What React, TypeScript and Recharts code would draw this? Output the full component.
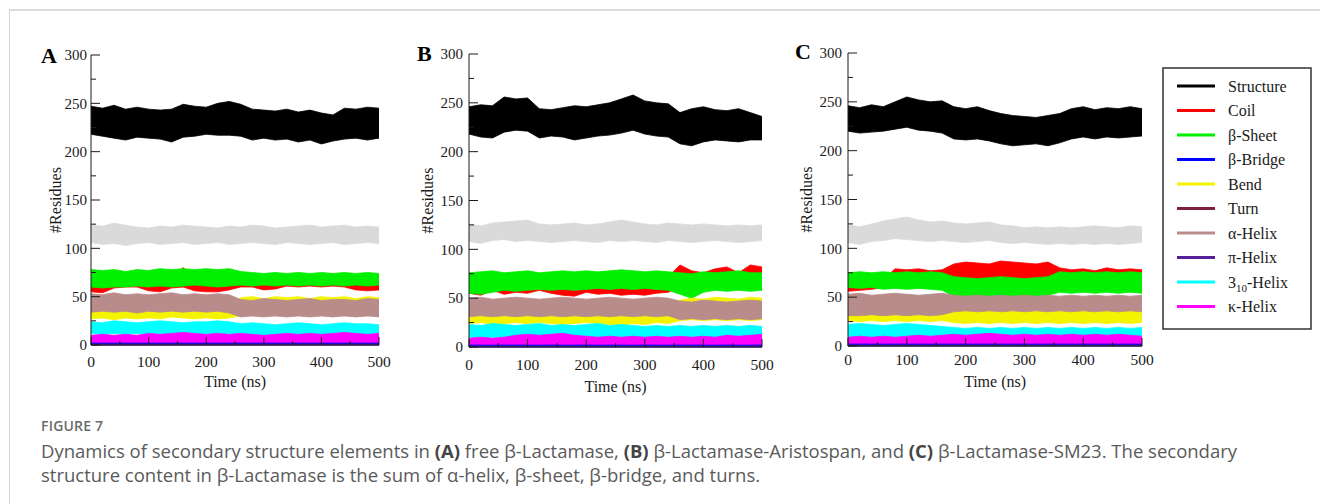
import { ComposedChart, Area, XAxis, YAxis } from 'recharts';

type Band = [number, number];

// sampling instants of the envelopes (ns)
const timeNs = [0, 20, 40, 60, 80, 100, 120, 140, 160, 180, 200, 220, 240, 260, 280, 300, 320, 340, 360, 380, 400, 420, 440, 460, 480, 500];
const xTicks = [0, 50, 100, 150, 200, 250, 300, 350, 400, 450, 500];
const yTicks = [0, 25, 50, 75, 100, 125, 150, 175, 200, 225, 250, 275, 300];

// each band is the [low, high] envelope of a noisy trace, every 20 ns
// ---- A: free beta-lactamase
const aStructure: Band[] = [[218,247],[216,245],[214,248],[212,244],[215,246],[214,244],[213,243],[210,244],[215,249],[216,247],[218,246],[217,250],[217,252],[216,249],[212,244],[214,243],[212,242],[213,244],[210,241],[212,243],[208,240],[211,238],[213,245],[214,244],[212,246],[214,245]];
const aGray: Band[] = [[106,124],[104,123],[105,126],[103,124],[105,122],[106,121],[104,123],[105,122],[106,124],[104,123],[105,122],[106,121],[104,123],[105,122],[106,124],[105,123],[104,121],[106,122],[105,123],[104,124],[105,122],[106,123],[104,124],[105,122],[106,123],[105,122]];
const aCoil: Band[] = [[55,70],[54,70],[59,68],[60,67],[60,70],[56,66],[55,74],[59,72],[60,80],[56,70],[55,68],[55,66],[57,69],[60,67],[60,66],[57,68],[58,67],[61,66],[60,68],[61,67],[60,72],[61,74],[60,68],[57,70],[56,72],[57,66]];
const aSheet: Band[] = [[60,78],[59,77],[60,78],[60,76],[61,78],[60,77],[61,79],[60,78],[61,79],[62,78],[61,79],[60,78],[61,79],[62,76],[61,75],[62,74],[61,75],[62,74],[61,75],[62,74],[61,75],[62,74],[61,75],[62,74],[61,75],[62,74]];
const aBend: Band[] = [[27,40],[28,39],[26,40],[28,41],[27,39],[28,40],[27,40],[29,39],[28,40],[27,41],[28,40],[27,39],[28,40],[30,49],[31,50],[30,48],[31,50],[30,49],[31,50],[30,48],[31,50],[30,49],[31,50],[30,48],[31,50],[30,49]];
const aTurn: Band[] = [[38,46],[38,46],[38,46],[38,46],[38,46],[38,46],[38,46],[38,46],[38,46],[38,46],[38,46],[38,46],[38,46],[34,42],[34,42],[34,42],[34,42],[34,42],[34,42],[34,42],[34,42],[34,42],[34,42],[34,42],[34,42],[34,42]];
const aAlpha: Band[] = [[34,53],[35,52],[34,54],[35,52],[33,53],[35,52],[34,53],[35,54],[34,52],[35,53],[34,52],[35,53],[33,52],[29,47],[30,46],[29,48],[30,47],[29,46],[30,47],[29,48],[30,46],[29,47],[30,47],[29,46],[30,48],[29,47]];
const aThreeTen: Band[] = [[12,24],[11,23],[12,25],[11,24],[12,23],[11,24],[12,25],[11,24],[12,23],[11,24],[12,24],[11,25],[12,24],[10,22],[11,23],[10,22],[11,21],[10,22],[11,23],[10,22],[11,21],[10,22],[11,23],[10,22],[11,22],[10,21]];
const aKappa: Band[] = [[1,10],[1,11],[1,10],[1,11],[1,10],[1,12],[1,11],[1,12],[1,13],[1,12],[1,11],[1,12],[1,11],[1,12],[1,11],[1,10],[1,11],[1,12],[1,11],[1,12],[1,11],[1,12],[1,13],[1,12],[1,11],[1,12]];

// ---- B: beta-lactamase + Aristospan
const bStructure: Band[] = [[218,246],[215,248],[214,247],[220,256],[222,254],[221,255],[214,244],[216,243],[215,245],[212,247],[214,246],[216,248],[217,250],[219,254],[222,258],[218,252],[216,250],[215,249],[208,240],[206,244],[210,246],[212,243],[211,242],[210,244],[212,240],[212,236]];
const bGray: Band[] = [[108,126],[106,124],[109,127],[110,128],[108,129],[109,130],[108,126],[107,125],[108,126],[109,127],[108,125],[107,126],[109,128],[108,130],[109,128],[108,126],[107,125],[109,127],[108,126],[107,125],[108,126],[109,125],[108,124],[107,125],[108,124],[109,125]];
const bCoil: Band[] = [[55,70],[53,72],[58,70],[54,68],[56,70],[55,69],[58,70],[55,68],[53,70],[52,69],[56,68],[54,70],[55,69],[53,70],[54,70],[53,69],[55,68],[56,72],[62,84],[60,78],[62,76],[60,80],[58,82],[60,76],[61,84],[63,82]];
const bSheet: Band[] = [[55,76],[54,77],[56,78],[58,76],[57,77],[58,78],[59,76],[58,77],[59,78],[58,77],[59,78],[60,77],[59,78],[60,79],[59,78],[60,77],[59,78],[58,77],[54,76],[50,75],[56,77],[58,76],[57,77],[58,78],[57,76],[58,76]];
const bBend: Band[] = [[24,36],[25,35],[23,36],[24,35],[25,36],[24,34],[25,35],[24,36],[23,35],[24,34],[25,36],[24,35],[23,37],[22,38],[24,36],[23,37],[25,36],[24,35],[27,48],[28,50],[27,49],[28,51],[27,50],[28,49],[27,51],[28,50]];
const bTurn: Band[] = [[36,45],[36,45],[36,45],[36,45],[36,45],[36,45],[36,45],[36,45],[36,45],[36,45],[36,45],[36,45],[36,45],[36,45],[36,45],[36,45],[36,45],[36,45],[33,42],[33,42],[33,42],[33,42],[33,42],[33,42],[33,42],[33,42]];
const bAlpha: Band[] = [[31,50],[32,51],[31,49],[32,50],[31,51],[32,50],[31,49],[32,50],[31,51],[32,50],[31,49],[32,50],[31,51],[32,50],[31,49],[32,50],[31,51],[32,50],[28,47],[29,46],[28,48],[29,47],[28,46],[29,47],[28,48],[29,47]];
const bThreeTen: Band[] = [[10,23],[9,22],[10,24],[9,23],[10,22],[9,23],[10,24],[9,22],[10,23],[9,22],[10,23],[9,24],[10,22],[9,23],[10,22],[9,21],[10,22],[9,21],[10,22],[9,21],[10,22],[9,21],[10,22],[9,21],[10,22],[9,21]];
const bKappa: Band[] = [[1,9],[1,10],[1,9],[1,10],[1,12],[1,13],[1,12],[1,13],[1,14],[1,12],[1,11],[1,10],[1,11],[1,10],[1,11],[1,10],[1,11],[1,10],[1,11],[1,10],[1,11],[1,10],[1,12],[1,11],[1,12],[1,13]];

// ---- C: beta-lactamase + SM23
const cStructure: Band[] = [[220,246],[218,244],[219,247],[220,245],[222,250],[224,255],[221,252],[220,250],[218,251],[212,245],[211,243],[212,245],[210,241],[207,238],[205,236],[206,235],[207,234],[205,236],[208,238],[212,243],[214,245],[212,242],[214,244],[213,243],[214,245],[215,243]];
const cGray: Band[] = [[106,124],[104,122],[107,125],[108,128],[110,130],[109,132],[108,129],[107,127],[108,128],[107,126],[106,125],[107,126],[108,127],[106,124],[105,123],[106,121],[105,122],[104,121],[105,122],[104,121],[105,122],[104,123],[105,122],[104,121],[105,123],[106,122]];
const cCoil: Band[] = [[56,66],[57,65],[58,64],[60,68],[66,79],[67,78],[66,79],[67,77],[66,78],[64,84],[65,86],[64,85],[65,84],[64,87],[65,86],[64,85],[65,84],[64,86],[66,80],[67,78],[66,79],[67,77],[66,80],[67,78],[66,79],[67,78]];
const cSheet: Band[] = [[60,75],[59,76],[60,75],[58,76],[59,75],[58,76],[59,75],[58,76],[57,75],[51,71],[50,70],[51,69],[50,70],[49,71],[50,70],[51,69],[50,70],[52,71],[55,76],[54,75],[55,76],[54,75],[55,76],[54,75],[55,76],[54,75]];
const cBend: Band[] = [[26,36],[25,37],[26,36],[25,35],[26,37],[25,36],[26,37],[25,36],[26,35],[24,36],[23,37],[24,36],[23,38],[24,37],[23,36],[24,38],[23,37],[24,36],[23,37],[24,38],[23,37],[24,36],[23,37],[24,38],[23,37],[24,36]];
const cTurn: Band[] = [[38,46],[38,46],[38,46],[38,46],[38,46],[38,46],[38,46],[38,46],[38,46],[38,46],[38,46],[38,46],[38,46],[38,46],[38,46],[38,46],[38,46],[38,46],[38,46],[38,46],[38,46],[38,46],[38,46],[38,46],[38,46],[38,46]];
const cAlpha: Band[] = [[31,53],[31,54],[32,52],[31,53],[32,54],[31,53],[32,52],[31,53],[32,54],[35,52],[36,51],[35,52],[36,51],[35,52],[36,51],[35,52],[36,51],[35,52],[36,51],[35,52],[36,51],[35,52],[36,51],[35,52],[36,51],[35,52]];
const cThreeTen: Band[] = [[8,22],[9,23],[8,22],[9,21],[8,22],[9,23],[8,22],[7,21],[8,20],[7,19],[6,18],[7,19],[6,18],[7,19],[6,18],[7,19],[6,18],[7,19],[6,18],[7,19],[6,18],[7,19],[6,18],[7,19],[6,18],[7,19]];
const cKappa: Band[] = [[1,9],[1,10],[1,9],[1,10],[1,9],[1,10],[1,11],[1,10],[1,11],[1,12],[1,11],[1,12],[1,13],[1,12],[1,11],[1,12],[1,11],[1,12],[1,11],[1,12],[1,11],[1,12],[1,11],[1,12],[1,11],[1,10]];

// thin traces sitting on the x axis in all three runs
const bridgeBand: Band[] = [[0,2],[0,2],[0,2],[0,2],[0,2],[0,2],[0,2],[0,2],[0,2],[0,2],[0,2],[0,2],[0,2],[0,2],[0,2],[0,2],[0,2],[0,2],[0,2],[0,2],[0,2],[0,2],[0,2],[0,2],[0,2],[0,2]];
const piBand: Band[] = [[0,1],[0,1],[0,1],[0,1],[0,1],[0,1],[0,1],[0,1],[0,1],[0,1],[0,1],[0,1],[0,1],[0,1],[0,1],[0,1],[0,1],[0,1],[0,1],[0,1],[0,1],[0,1],[0,1],[0,1],[0,1],[0,1]];

const legendItems = [
  { key: 'structure', name: 'Structure', color: '#000000' },
  { key: 'coil', name: 'Coil', color: '#ff0000' },
  { key: 'sheet', name: 'β-Sheet', color: '#00f000' },
  { key: 'bridge', name: 'β-Bridge', color: '#0000ff' },
  { key: 'bend', name: 'Bend', color: '#f4f400' },
  { key: 'turn', name: 'Turn', color: '#80203f' },
  { key: 'alpha', name: 'α-Helix', color: '#b98c8c' },
  { key: 'pi', name: 'π-Helix', color: '#55209a' },
  { key: 'threeTen', name: '3₁₀-Helix', color: '#00ffff' },
  { key: 'kappa', name: 'κ-Helix', color: '#ff00ff' },
];
const grayColor = '#dadada';
// paint order, back to front
const drawOrder = ['gray', 'structure', 'coil', 'sheet', 'bend', 'turn', 'alpha', 'threeTen', 'kappa', 'bridge', 'pi'];

const panels = [
  {
    letter: 'A', letterX: 41, letterY: 64, axisX: 91, plotTop: 55, plotBottom: 345, plotRight: 379,
    yGap: 4, yTitle: 30, xTickBase: 22, xTitle: 42,
    bands: { gray: aGray, structure: aStructure, coil: aCoil, sheet: aSheet, bend: aBend, turn: aTurn, alpha: aAlpha, threeTen: aThreeTen, kappa: aKappa, bridge: bridgeBand, pi: piBand },
  },
  {
    letter: 'B', letterX: 417, letterY: 62, axisX: 469, plotTop: 54, plotBottom: 347, plotRight: 762,
    yGap: 6, yTitle: 36, xTickBase: 23, xTitle: 45,
    bands: { gray: bGray, structure: bStructure, coil: bCoil, sheet: bSheet, bend: bBend, turn: bTurn, alpha: bAlpha, threeTen: bThreeTen, kappa: bKappa, bridge: bridgeBand, pi: piBand },
  },
  {
    letter: 'C', letterX: 795, letterY: 60, axisX: 848, plotTop: 53, plotBottom: 346, plotRight: 1142,
    yGap: 6, yTitle: 36, xTickBase: 19, xTitle: 41,
    bands: { gray: cGray, structure: cStructure, coil: cCoil, sheet: cSheet, bend: cBend, turn: cTurn, alpha: cAlpha, threeTen: cThreeTen, kappa: cKappa, bridge: bridgeBand, pi: piBand },
  },
];

const SERIF = '"Liberation Serif", "Times New Roman", serif';
const SANS = '"Open Sans", "Noto Sans", sans-serif';
const INK = '#1a1a1a';
const Y_W = 60;
const M_TOP = 10;
const M_RIGHT = 20;
const X_H = 55;

function colorOf(key: string) {
  if (key === 'gray') return grayColor;
  return legendItems.find((s) => s.key === key)!.color;
}

function Panel({ cfg }: { cfg: (typeof panels)[number] }) {
  const plotW = cfg.plotRight - cfg.axisX;
  const plotH = cfg.plotBottom - cfg.plotTop;
  const width = Y_W + plotW + M_RIGHT;
  const height = M_TOP + plotH + X_H;
  const bands = cfg.bands as Record<string, Band[]>;
  const rows = timeNs.map((t, i) => {
    const row: Record<string, number | Band> = { t };
    for (const key of drawOrder) row[key] = bands[key][i];
    return row;
  });

  return (
    <>
      <div
        style={{
          position: 'absolute',
          left: cfg.letterX,
          top: cfg.letterY - 20,
          font: `bold 22px ${SERIF}`,
          lineHeight: '24px',
          color: '#000',
        }}
      >
        {cfg.letter}
      </div>
      <div style={{ position: 'absolute', left: cfg.axisX - Y_W, top: cfg.plotTop - M_TOP }}>
        <ComposedChart
          width={width}
          height={height}
          data={rows}
          margin={{ top: M_TOP, right: M_RIGHT, bottom: 0, left: 0 }}
        >
          <XAxis
            type="number"
            dataKey="t"
            domain={[0, 500]}
            ticks={xTicks}
            interval={0}
            height={X_H}
            tickSize={0}
            tickMargin={0}
            tickLine={false}
            axisLine={{ stroke: INK, strokeWidth: 1 }}
            tick={(p: any) => {
              const major = p.payload.value % 100 === 0;
              return (
                <g>
                  <line x1={p.x} x2={p.x} y1={p.y} y2={p.y - (major ? 8 : 4)} stroke={INK} />
                  {major && (
                    <text x={p.x} y={p.y + cfg.xTickBase} textAnchor="middle" fontFamily={SERIF} fontSize={15.5} fill={INK}>
                      {p.payload.value}
                    </text>
                  )}
                </g>
              );
            }}
            label={() => (
              <text
                x={Y_W + plotW / 2}
                y={M_TOP + plotH + cfg.xTitle}
                textAnchor="middle"
                fontFamily={SERIF}
                fontSize={16}
                fill={INK}
              >
                Time (ns)
              </text>
            )}
          />
          <YAxis
            type="number"
            domain={[0, 300]}
            ticks={yTicks}
            interval={0}
            width={Y_W}
            tickSize={0}
            tickMargin={0}
            tickLine={false}
            axisLine={{ stroke: INK, strokeWidth: 1 }}
            tick={(p: any) => {
              const major = p.payload.value % 50 === 0;
              return (
                <g>
                  <line x1={p.x} x2={p.x + (major ? 9 : 5)} y1={p.y} y2={p.y} stroke={INK} />
                  {major && (
                    <text x={p.x - cfg.yGap} y={p.y} dy="0.35em" textAnchor="end" fontFamily={SERIF} fontSize={15} fill={INK}>
                      {p.payload.value}
                    </text>
                  )}
                </g>
              );
            }}
            label={() => (
              <text
                x={Y_W - cfg.yTitle}
                y={M_TOP + plotH / 2}
                transform={`rotate(-90 ${Y_W - cfg.yTitle} ${M_TOP + plotH / 2})`}
                textAnchor="middle"
                fontFamily={SERIF}
                fontSize={16}
                fill={INK}
              >
                #Residues
              </text>
            )}
          />
          {drawOrder.map((key) => (
            <Area
              key={key}
              type="linear"
              dataKey={key}
              fill={colorOf(key)}
              fillOpacity={1}
              stroke={colorOf(key)}
              strokeWidth={0.8}
              dot={false}
              activeDot={false}
              isAnimationActive={false}
            />
          ))}
        </ComposedChart>
      </div>
    </>
  );
}

function LegendBox() {
  const rowH = 24.5;
  return (
    <svg style={{ position: 'absolute', left: 1162, top: 67 }} width={152} height={264}>
      <rect x={1} y={1} width={148} height={261} fill="#fff" stroke="#333" strokeWidth={1.5} />
      {legendItems.map((s, i) => {
        const y = 19 + i * rowH;
        return (
          <g key={s.key}>
            <line x1={15} x2={53} y1={y} y2={y} stroke={s.color} strokeWidth={3} />
            {s.key === 'threeTen' ? (
              <text x={66} y={y} dy="0.35em" fontFamily={SERIF} fontSize={16} fill={INK}>
                3<tspan fontSize={11} dy="4">10</tspan>
                <tspan dy="-4">-Helix</tspan>
              </text>
            ) : (
              <text x={66} y={y} dy="0.35em" fontFamily={SERIF} fontSize={16} fill={INK}>
                {s.name}
              </text>
            )}
          </g>
        );
      })}
    </svg>
  );
}

export default function App() {
  return (
    <div style={{ position: 'absolute', left: 0, top: 0, width: 1320, height: 504, background: '#fff', overflow: 'hidden' }}>
      <div
        style={{
          position: 'absolute',
          left: 9,
          top: 9,
          width: 1320,
          height: 500,
          borderTop: '2px solid #dcdcdc',
          borderLeft: '1px solid #d2d2d2',
        }}
      />
      {panels.map((cfg) => (
        <Panel key={cfg.letter} cfg={cfg} />
      ))}
      <LegendBox />
      <div style={{ position: 'absolute', left: 41, top: 416, font: `600 14px ${SANS}`, lineHeight: '20px', color: '#6a6a6a', letterSpacing: 0.2 }}>
        FIGURE 7
      </div>
      <div
        style={{
          position: 'absolute',
          left: 41,
          top: 439,
          font: `18.5px ${SANS}`,
          lineHeight: '24px',
          color: '#5a5a5a',
          whiteSpace: 'nowrap',
        }}
      >
        <div>
          Dynamics of secondary structure elements in <b style={{ color: '#444' }}>(A)</b> free β-Lactamase,{' '}
          <b style={{ color: '#444' }}>(B)</b> β-Lactamase-Aristospan, and <b style={{ color: '#444' }}>(C)</b>{' '}
          β-Lactamase-SM23. The secondary
        </div>
        <div>structure content in β-Lactamase is the sum of α-helix, β-sheet, β-bridge, and turns.</div>
      </div>
    </div>
  );
}
